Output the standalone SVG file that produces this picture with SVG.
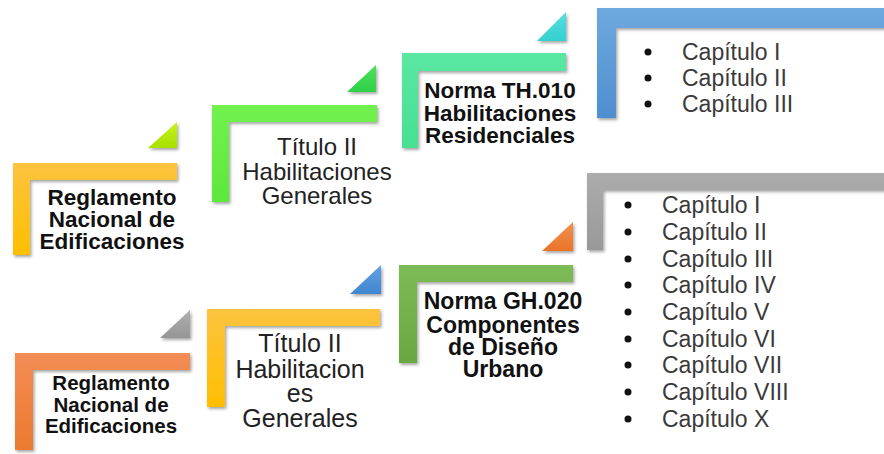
<svg xmlns="http://www.w3.org/2000/svg" width="884" height="454" viewBox="0 0 884 454">
<defs>
<filter id="sh" x="-10%" y="-10%" width="130%" height="130%"><feDropShadow dx="1.5" dy="2" stdDeviation="1.5" flood-color="#000" flood-opacity="0.35"/></filter>
<linearGradient id="gYel" x1="0" y1="0" x2="0" y2="1"><stop offset="0" stop-color="#fcc33f"/><stop offset="1" stop-color="#ffbf00"/></linearGradient>
<linearGradient id="gGrn" x1="0" y1="0" x2="0" y2="1"><stop offset="0" stop-color="#72f150"/><stop offset="1" stop-color="#5ee83a"/></linearGradient>
<linearGradient id="gTeal" x1="0" y1="0" x2="0" y2="1"><stop offset="0" stop-color="#5ae7a2"/><stop offset="1" stop-color="#48e092"/></linearGradient>
<linearGradient id="gBlue" x1="0" y1="0" x2="0" y2="1"><stop offset="0" stop-color="#6ea9de"/><stop offset="1" stop-color="#4f8fcf"/></linearGradient>
<linearGradient id="gOrg" x1="0" y1="0" x2="0" y2="1"><stop offset="0" stop-color="#f38c55"/><stop offset="1" stop-color="#ec7a30"/></linearGradient>
<linearGradient id="gGrn2" x1="0" y1="0" x2="0" y2="1"><stop offset="0" stop-color="#7dbb56"/><stop offset="1" stop-color="#6aa842"/></linearGradient>
<linearGradient id="gGray" x1="0" y1="0" x2="0" y2="1"><stop offset="0" stop-color="#acacac"/><stop offset="1" stop-color="#999"/></linearGradient>
<linearGradient id="tLime" x1="0" y1="0" x2="0" y2="1"><stop offset="0" stop-color="#c6f21a"/><stop offset="1" stop-color="#a8e000"/></linearGradient>
<linearGradient id="tGrn" x1="0" y1="0" x2="0" y2="1"><stop offset="0" stop-color="#4ee05a"/><stop offset="1" stop-color="#2fd04a"/></linearGradient>
<linearGradient id="tCyan" x1="0" y1="0" x2="0" y2="1"><stop offset="0" stop-color="#55dedf"/><stop offset="1" stop-color="#36cfcf"/></linearGradient>
<linearGradient id="tGray" x1="0" y1="0" x2="0" y2="1"><stop offset="0" stop-color="#b0b0b0"/><stop offset="1" stop-color="#959595"/></linearGradient>
<linearGradient id="tBlue" x1="0" y1="0" x2="0" y2="1"><stop offset="0" stop-color="#63a3e0"/><stop offset="1" stop-color="#3f86d0"/></linearGradient>
<linearGradient id="tOrg" x1="0" y1="0" x2="0" y2="1"><stop offset="0" stop-color="#f49050"/><stop offset="1" stop-color="#ea7428"/></linearGradient>
</defs>
<style>
.L{filter:url(#sh);}
.b{font-family:"Liberation Sans",Arial,sans-serif;font-weight:bold;fill:#111;text-anchor:middle;}
.r{font-family:"Liberation Sans",Arial,sans-serif;fill:#222;text-anchor:middle;}
.li{font-family:"Liberation Sans",Arial,sans-serif;fill:#3a3a3a;font-size:23px;}
.dot{fill:#111;}
</style>
<rect width="884" height="454" fill="#fff"/>
<g id="connectors">
<polygon class="L" points="148,148 177,148 177,122" fill="url(#tLime)"/>
<polygon class="L" points="347,92 376,92 376,65" fill="url(#tGrn)"/>
<polygon class="L" points="537,41 566,41 566,12" fill="url(#tCyan)"/>
<polygon class="L" points="160,338 190,338 190,310" fill="url(#tGray)"/>
<polygon class="L" points="350,294 381,294 381,265" fill="url(#tBlue)"/>
<polygon class="L" points="542,251 573,251 573,222" fill="url(#tOrg)"/>
</g>
<g id="node-reglamento-1">
<path class="L" d="M13,163 H177 V180 H30 V255 H13 Z" fill="url(#gYel)"/>
<text class="b" font-size="22.5"><tspan x="112" y="205">Reglamento</tspan><tspan x="112" y="227">Nacional de</tspan><tspan x="112" y="249">Edificaciones</tspan></text>
</g>
<g id="node-titulo-1">
<path class="L" d="M212,105 H377 V122 H229 V202 H212 Z" fill="url(#gGrn)"/>
<text class="r" font-size="24"><tspan x="317" y="155">Título II</tspan><tspan x="317" y="180">Habilitaciones</tspan><tspan x="317" y="204">Generales</tspan></text>
</g>
<g id="node-th010">
<path class="L" d="M402,53 H566 V71 H418 V148 H402 Z" fill="url(#gTeal)"/>
<text class="b" font-size="22.5"><tspan x="500" y="98">Norma TH.010</tspan><tspan x="500" y="121">Habilitaciones</tspan><tspan x="500" y="143">Residenciales</tspan></text>
</g>
<g id="node-capitulos-1">
<path class="L" d="M597,8 H890 V28 H616 V118 H597 Z" fill="url(#gBlue)"/>
<circle class="dot" cx="648" cy="52" r="3.5"/><text class="li" x="682" y="60">Capítulo I</text>
<circle class="dot" cx="648" cy="78" r="3.5"/><text class="li" x="682" y="86">Capítulo II</text>
<circle class="dot" cx="648" cy="104" r="3.5"/><text class="li" x="682" y="112">Capítulo III</text>
</g>
<g id="node-reglamento-2">
<path class="L" d="M15,353 H190 V370 H33 V450 H15 Z" fill="url(#gOrg)"/>
<text class="b" font-size="20.5"><tspan x="111" y="390">Reglamento</tspan><tspan x="111" y="412">Nacional de</tspan><tspan x="111" y="433">Edificaciones</tspan></text>
</g>
<g id="node-titulo-2">
<path class="L" d="M207,309 H380 V326 H225 V407 H207 Z" fill="url(#gYel)"/>
<text class="r" font-size="25"><tspan x="300" y="352">Título II</tspan><tspan x="300" y="378">Habilitacion</tspan><tspan x="300" y="402">es</tspan><tspan x="300" y="427">Generales</tspan></text>
</g>
<g id="node-gh020">
<path class="L" d="M399,265 H573 V282 H417 V363 H399 Z" fill="url(#gGrn2)"/>
<text class="b" font-size="23"><tspan x="503" y="309">Norma GH.020</tspan><tspan x="503" y="333">Componentes</tspan><tspan x="503" y="355">de Diseño</tspan><tspan x="503" y="377">Urbano</tspan></text>
</g>
<g id="node-capitulos-2">
<path class="L" d="M587,173 H890 V190 H603 V250 H587 Z" fill="url(#gGray)"/>
<circle class="dot" cx="628" cy="205" r="3.5"/><text class="li" x="662" y="213">Capítulo I</text>
<circle class="dot" cx="628" cy="232" r="3.5"/><text class="li" x="662" y="240">Capítulo II</text>
<circle class="dot" cx="628" cy="259" r="3.5"/><text class="li" x="662" y="267">Capítulo III</text>
<circle class="dot" cx="628" cy="285" r="3.5"/><text class="li" x="662" y="293">Capítulo IV</text>
<circle class="dot" cx="628" cy="312" r="3.5"/><text class="li" x="662" y="320">Capítulo V</text>
<circle class="dot" cx="628" cy="339" r="3.5"/><text class="li" x="662" y="347">Capítulo VI</text>
<circle class="dot" cx="628" cy="365" r="3.5"/><text class="li" x="662" y="373">Capítulo VII</text>
<circle class="dot" cx="628" cy="392" r="3.5"/><text class="li" x="662" y="400">Capítulo VIII</text>
<circle class="dot" cx="628" cy="419" r="3.5"/><text class="li" x="662" y="427">Capítulo X</text>
</g>
</svg>
